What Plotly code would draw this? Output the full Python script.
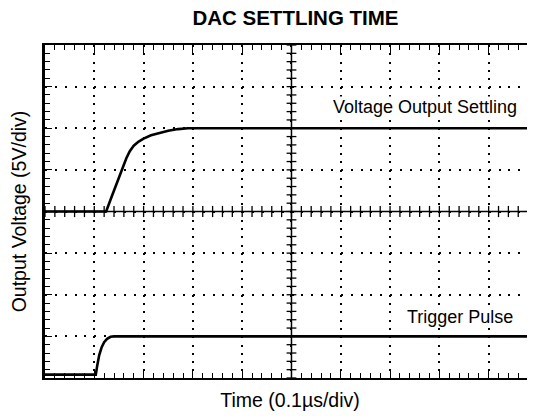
import numpy as np
import plotly.graph_objects as go

# ---- screen geometry (oscilloscope divisions) ----
N_XDIV = 10          # 0.1 us / div
N_YDIV = 8           # 5 V / div
X_VISIBLE = 9.94     # the last division is clipped by the picture edge

# ---- traces (in divisions) ----
vout_t = [0, 1.24, 1.35, 1.45, 1.55, 1.65, 1.72, 1.80, 1.90, 2.00, 2.15, 2.30, 2.50, 2.70, 2.90, 3.20, 9.94]
vout_v = [4.0, 4.0, 4.35, 4.67, 4.98, 5.28, 5.45, 5.58, 5.68, 5.75, 5.83, 5.88, 5.94, 5.98, 6.0, 6.0, 6.0]

trig_t = [0, 1.03, 1.06, 1.10, 1.15, 1.20, 1.26, 1.33, 1.40, 9.94]
trig_v = [0.08, 0.08, 0.30, 0.55, 0.74, 0.86, 0.94, 0.99, 1.0, 1.0]

labels = ["Voltage Output Settling", "Trigger Pulse"]
label_x = [9.59, 9.51]
label_y = [6.5, 1.46]

TITLE = "DAC SETTLING TIME"
XTITLE = "Time (0.1µs/div)"
YTITLE = "Output Voltage (5V/div)"

FONT = "Arial, Liberation Sans, Helvetica, sans-serif"
BLACK = "black"

fig = go.Figure()

# centre crosshair with small tick marks
cx = N_XDIV / 2
cy = N_YDIV / 2
xt = np.arange(0, X_VISIBLE, 0.2)
yt = np.arange(0, N_YDIV + 0.001, 0.2)

fig.add_trace(go.Scatter(
    x=[0, X_VISIBLE], y=[cy, cy], mode="lines",
    line=dict(color=BLACK, width=1.5), hoverinfo="skip", showlegend=False))
fig.add_trace(go.Scatter(
    x=[cx, cx], y=[0, N_YDIV], mode="lines",
    line=dict(color=BLACK, width=1.5), hoverinfo="skip", showlegend=False))
fig.add_trace(go.Scatter(
    x=xt, y=[cy] * len(xt), mode="markers",
    marker=dict(symbol="line-ns", size=8, line=dict(color=BLACK, width=1.3)),
    hoverinfo="skip", showlegend=False))
fig.add_trace(go.Scatter(
    x=[cx] * len(yt), y=yt, mode="markers",
    marker=dict(symbol="line-ew", size=7, line=dict(color=BLACK, width=1.3)),
    hoverinfo="skip", showlegend=False))

# signals
fig.add_trace(go.Scatter(
    x=vout_t, y=vout_v, mode="lines", name=labels[0],
    line=dict(color=BLACK, width=2.6), showlegend=False))
fig.add_trace(go.Scatter(
    x=trig_t, y=trig_v, mode="lines", name=labels[1], yaxis="y2",
    line=dict(color=BLACK, width=2.6), showlegend=False))

for txt, lx, ly in zip(labels, label_x, label_y):
    fig.add_annotation(
        x=lx, y=ly, xref="x", yref="y", text=txt, showarrow=False,
        xanchor="right", yanchor="middle", bgcolor="white", borderpad=0,
        font=dict(family=FONT, size=18, color=BLACK))

# the page body adds an 8 px offset, so the figure is sized to fit the window
fig.update_layout(
    width=527, height=408,
    margin=dict(l=37, r=0, t=37, b=38, autoexpand=False),
    paper_bgcolor="white", plot_bgcolor="white",
    font=dict(family=FONT, color=BLACK),
    title=dict(text=TITLE, x=0.5455, xref="container", xanchor="center",
               y=1.0, yref="container", yanchor="top", pad=dict(t=3, b=0),
               font=dict(family=FONT, size=20.5, color=BLACK, weight="bold")),
    xaxis=dict(
        range=[0, X_VISIBLE], tick0=0, dtick=1, showticklabels=False,
        automargin=False,
        showline=True, linecolor=BLACK, linewidth=2.2, mirror="ticks",
        ticks="inside", ticklen=8, tickwidth=1.3, tickcolor=BLACK,
        showgrid=True, gridcolor=BLACK, gridwidth=1.6, griddash="2px,6.32px",
        zeroline=False,
        minor=dict(ticks="inside", dtick=0.2, ticklen=4.5, tickwidth=1.3,
                   tickcolor=BLACK, showgrid=False),
        title=dict(text=XTITLE, standoff=14,
                   font=dict(family=FONT, size=19.5, color=BLACK)),
    ),
    yaxis=dict(
        range=[0, N_YDIV], tick0=0, dtick=1, showticklabels=False,
        automargin=False,
        showline=True, linecolor=BLACK, linewidth=2.6, mirror=False,
        ticks="inside", ticklen=7, tickwidth=1.3, tickcolor=BLACK,
        showgrid=True, gridcolor=BLACK, gridwidth=1.6, griddash="2px,7.86px",
        zeroline=False,
        minor=dict(ticks="inside", dtick=0.2, ticklen=5, tickwidth=1.3,
                   tickcolor=BLACK, showgrid=False),
        title=dict(text=YTITLE, standoff=11,
                   font=dict(family=FONT, size=19.5, color=BLACK)),
    ),
    yaxis2=dict(
        overlaying="y", side="right", range=[0, N_YDIV], tick0=0, dtick=1,
        automargin=False,
        showticklabels=False, showline=False, showgrid=False, zeroline=False,
        ticks="inside", ticklen=5, tickwidth=1.3, tickcolor=BLACK,
        minor=dict(ticks="inside", dtick=0.2, ticklen=5, tickwidth=1.3,
                   tickcolor=BLACK, showgrid=False),
    ),
)

fig.write_html("out.html")
